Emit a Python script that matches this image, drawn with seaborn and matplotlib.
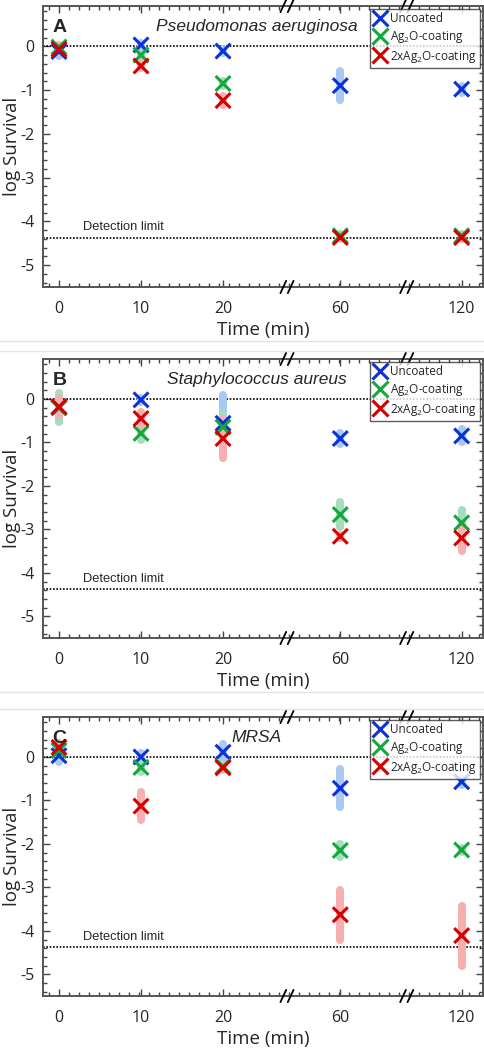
import matplotlib
matplotlib.use("Agg")
import matplotlib.pyplot as plt
from matplotlib.lines import Line2D
from matplotlib.ticker import MultipleLocator, FixedLocator
import numpy as np
import pandas as pd
import seaborn as sns

# --- data (log survival, mean and +/- spread) ---
times = [0, 10, 20, 60, 120]
time_labels = ["0", "10", "20", "60", "120"]
coatings = ["Uncoated", "Ag$_2$O-coating", "2xAg$_2$O-coating"]

pa_uncoated = [-0.12, 0.03, -0.11, -0.90, -0.98]
pa_uncoated_err = [0.10, 0.04, 0.05, 0.33, 0.08]
pa_ag = [-0.02, -0.20, -0.85, -4.33, -4.33]
pa_ag_err = [0.05, 0.05, 0.05, 0.04, 0.04]
pa_2x = [-0.07, -0.45, -1.24, -4.37, -4.37]
pa_2x_err = [0.08, 0.05, 0.10, 0.04, 0.04]

sa_uncoated = [-0.20, -0.02, -0.56, -0.91, -0.85]
sa_uncoated_err = [0.10, 0.05, 0.65, 0.12, 0.15]
sa_ag = [-0.20, -0.79, -0.65, -2.66, -2.85]
sa_ag_err = [0.33, 0.15, 0.30, 0.28, 0.30]
sa_2x = [-0.18, -0.45, -0.91, -3.16, -3.20]
sa_2x_err = [0.20, 0.15, 0.45, 0.04, 0.30]

mrsa_uncoated = [0.03, 0.00, 0.11, -0.72, -0.57]
mrsa_uncoated_err = [0.15, 0.10, 0.18, 0.44, 0.08]
mrsa_ag = [0.15, -0.24, -0.22, -2.15, -2.14]
mrsa_ag_err = [0.15, 0.10, 0.05, 0.15, 0.05]
mrsa_2x = [0.22, -1.13, -0.25, -3.63, -4.11]
mrsa_2x_err = [0.10, 0.33, 0.05, 0.57, 0.69]

detection_limit = -4.37

# broken time axis: where each time point sits on the drawn axis
x_pos = {0: 0.0, 10: 1.0, 20: 2.0, 60: 3.43, 120: 4.91}
x_breaks = [2.78, 4.24]

colors = ["#0a32d8", "#12a83c", "#d40000"]
light = ["#a9c9f2", "#a6dcbf", "#f7b0b0"]


def long_table(means, errs):
    rows = []
    for name, m, e in zip(coatings, means, errs):
        for t, v, s in zip(times, m, e):
            rows.append({"coating": name, "pos": x_pos[t], "value": v, "err": s})
    return pd.DataFrame(rows)


def draw_panel(ax, letter, title, means, errs):
    df = long_table(means, errs)

    ax.axhline(0, color="black", lw=1.2, ls=(0, (1, 1)), zorder=1)
    ax.axhline(detection_limit, color="black", lw=1.2, ls=(0, (1, 1)), zorder=1)
    ax.text(0.29, detection_limit + 0.1, "Detection limit", fontsize=9.3,
            family="Liberation Sans", va="bottom", ha="left")

    for name, lc in zip(coatings, light):
        part = df[df["coating"] == name]
        ax.vlines(part["pos"], part["value"] - part["err"], part["value"] + part["err"],
                  colors=lc, lw=5.8, capstyle="round", zorder=2)

    sns.scatterplot(data=df, x="pos", y="value", hue="coating", hue_order=coatings,
                    palette=colors, marker="x", s=115, linewidth=2.2, legend=False,
                    ax=ax, zorder=3)

    ax.set_xlim(-0.195, 5.17)
    ax.set_ylim(-5.5, 0.92)
    ax.xaxis.set_major_locator(FixedLocator([x_pos[t] for t in times]))
    ax.set_xticklabels(time_labels)
    ax.xaxis.set_minor_locator(MultipleLocator(0.122))
    ax.yaxis.set_major_locator(MultipleLocator(1))
    ax.yaxis.set_minor_locator(MultipleLocator(0.2))
    ax.tick_params(which="both", direction="in", top=True, right=True,
                   color="#444444", labelsize=11.5)
    ax.tick_params(which="major", length=5, width=1.0)
    ax.tick_params(which="minor", length=3, width=1.0)
    ax.tick_params(axis="x", which="major", pad=10)
    ax.tick_params(axis="y", which="major", pad=6)
    for sp in ax.spines.values():
        sp.set_color("#555555")
        sp.set_linewidth(1.4)
    ax.set_xlabel("Time (min)", fontsize=13.5, labelpad=3)
    ax.set_ylabel("log Survival", fontsize=13.5)
    ax.yaxis.set_label_coords(-0.05, 0.5)

    # break marks on top and bottom spines
    trans = ax.get_xaxis_transform()
    for xb in x_breaks:
        for off in (-0.045, 0.045):
            for yb in (0.0, 1.0):
                ax.plot([xb + off - 0.035, xb + off + 0.035], [yb - 0.022, yb + 0.022],
                        color="black", lw=1.3, transform=trans, clip_on=False, zorder=5)

    ax.text(0.022, 0.955, letter, transform=ax.transAxes, fontsize=14,
            fontweight="bold", family="Liberation Sans", va="top", ha="left")
    ax.text(2.41, 0.955, title, transform=ax.get_xaxis_transform(), fontsize=12.5,
            style="italic", family="Liberation Sans", va="top", ha="center")

    handles = [Line2D([], [], marker="x", ls="none", color=c, markersize=11,
                      markeredgewidth=2.2) for c in colors]
    leg = ax.legend(handles, coatings, loc="upper right", fontsize=8.5,
                    frameon=True, fancybox=False, edgecolor="#333333",
                    borderaxespad=0.25, handletextpad=0.3, labelspacing=0.3,
                    borderpad=0.3, handlelength=1.1)
    leg.get_frame().set_linewidth(1.0)
    leg.set_zorder(6)


sns.set_theme(style="ticks")
plt.rcParams["font.family"] = ["Open Sans", "DejaVu Sans"]
plt.rcParams["mathtext.default"] = "regular"
plt.rcParams["axes.unicode_minus"] = False

fig = plt.figure(figsize=(4.84, 10.5), dpi=100)
H = 1050.0
left, width = 43 / 484, 440 / 484
panels = [
    (6, 287, "A", "Pseudomonas aeruginosa",
     [pa_uncoated, pa_ag, pa_2x], [pa_uncoated_err, pa_ag_err, pa_2x_err]),
    (359, 638, "B", "Staphylococcus aureus",
     [sa_uncoated, sa_ag, sa_2x], [sa_uncoated_err, sa_ag_err, sa_2x_err]),
    (717, 996, "C", "MRSA",
     [mrsa_uncoated, mrsa_ag, mrsa_2x], [mrsa_uncoated_err, mrsa_ag_err, mrsa_2x_err]),
]
for top, bottom, letter, title, means, errs in panels:
    ax = fig.add_axes([left, 1 - bottom / H, width, (bottom - top) / H])
    draw_panel(ax, letter, title, means, errs)

for ypx in (341, 351, 692, 709):
    fig.add_artist(Line2D([0, 1], [1 - ypx / H] * 2, transform=fig.transFigure,
                          color="#e4e4e4", lw=1.0))

fig.savefig("out.png", dpi=100)
